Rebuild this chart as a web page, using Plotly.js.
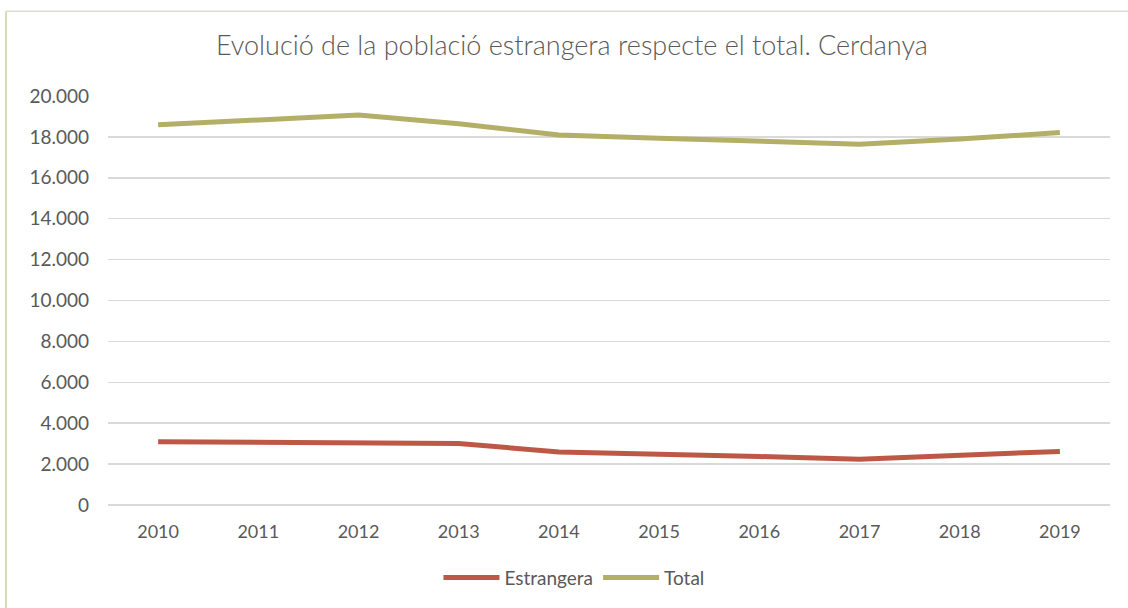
<!DOCTYPE html>
<html>
<head>
<meta charset="utf-8">
<script src="https://cdn.plot.ly/plotly-3.0.1.min.js"></script>
<style>
html,body{margin:0;padding:0;background:#fff;}
#chart{width:1128px;height:608px;}
</style>
</head>
<body>
<div id="chart"></div>
<script>
const years = ["2010","2011","2012","2013","2014","2015","2016","2017","2018","2019"];
const estrangera = [3090, 3050, 3040, 3010, 2590, 2500, 2370, 2240, 2440, 2620];
const total = [18590, 18820, 19070, 18640, 18090, 17940, 17790, 17640, 17900, 18210];

const traces = [
  {x: years, y: estrangera, name: "Estrangera", type: "scatter", mode: "lines",
   line: {color: "#BE5846", width: 5}},
  {x: years, y: total, name: "Total", type: "scatter", mode: "lines",
   line: {color: "#B3AF67", width: 5}}
];

const layout = {
  width: 1128, height: 608,
  margin: {l: 108, r: 18, t: 96, b: 102},
  paper_bgcolor: "#fff", plot_bgcolor: "#fff",
  separators: ",.",
  font: {family: "Lato, sans-serif", color: "#595959", size: 18},
  title: {text: "Evolució de la població estrangera respecte el total. Cerdanya",
          font: {size: 27, color: "#595959", family: "Lato, sans-serif", weight: 300},
          x: 0.507, xanchor: "center", y: 0.925, yanchor: "middle"},
  xaxis: {type: "category", range: [-0.5, 9.5], showgrid: false, zeroline: false, showline: false,
          ticks: "", ticklabelstandoff: 14, tickfont: {size: 18, color: "#595959"}},
  yaxis: {range: [0, 20000], dtick: 2000, tickformat: ",d", gridcolor: "#d9d9d9",
          gridwidth: 1.5, zeroline: true, zerolinecolor: "#d9d9d9", zerolinewidth: 1.5,
          showline: false, ticks: "", ticklabelstandoff: 18, tickfont: {size: 19, color: "#595959"}},
  legend: {orientation: "h", x: 0.465, xanchor: "center", y: -0.175, yanchor: "middle",
           font: {size: 19, color: "#595959"}, itemwidth: 56},
  shapes: [
    {type: "line", xref: "paper", yref: "paper", x0: -0.1018, x1: 1.02, y0: 1.207, y1: 1.207,
     line: {color: "#dedfd0", width: 1.5}},
    {type: "line", xref: "paper", yref: "paper", x0: -0.1018, x1: -0.1018, y0: 1.207, y1: -0.26,
     line: {color: "#d4dcbc", width: 2}}
  ],
  showlegend: true
};

Plotly.newPlot("chart", traces, layout, {displayModeBar: false, staticPlot: true});
</script>
</body>
</html>
